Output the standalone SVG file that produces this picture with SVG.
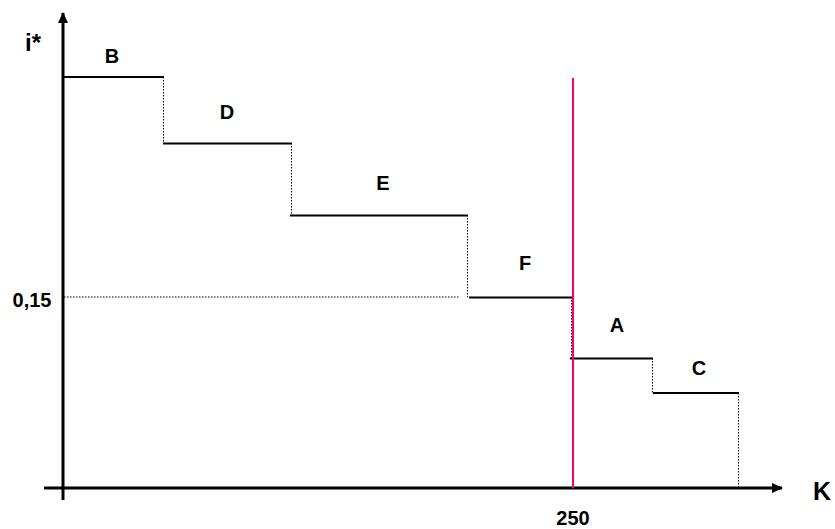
<svg xmlns="http://www.w3.org/2000/svg" width="835" height="529" viewBox="0 0 835 529">
<style>
.lbl{font-family:"Liberation Sans",Arial,sans-serif;font-weight:bold;font-size:20px;fill:#000;text-anchor:middle}
.step{stroke:#000;stroke-width:2;fill:none}
.dot{stroke:#000;stroke-width:1;stroke-dasharray:1.5 1.5;fill:none}
.axis{stroke:#000;stroke-width:3;fill:none}
</style>
<defs>
<marker id="ahv" markerWidth="11" markerHeight="10" refX="10" refY="5" orient="auto" markerUnits="userSpaceOnUse">
<path d="M0,0 L11,5 L0,10 Z" fill="#000"/>
</marker>
</defs>
<g id="connectors">
<line class="axis" x1="63" y1="500" x2="63" y2="13" marker-end="url(#ahv)"/>
<line class="axis" x1="44" y1="488" x2="782" y2="488" marker-end="url(#ahv)"/>
<line class="dot" x1="64" y1="297" x2="460" y2="297"/>
<line class="step" x1="64" y1="77" x2="164" y2="77"/>
<line class="dot" x1="163.5" y1="77" x2="163.5" y2="143"/>
<line class="step" x1="163" y1="143.5" x2="292" y2="143.5"/>
<line class="dot" x1="291.5" y1="143" x2="291.5" y2="215"/>
<line class="step" x1="290" y1="215.5" x2="468" y2="215.5"/>
<line class="dot" x1="467.5" y1="215" x2="467.5" y2="297"/>
<line class="step" x1="469" y1="297.5" x2="573" y2="297.5"/>
<line class="dot" x1="571.5" y1="297" x2="571.5" y2="358"/>
<line class="step" x1="570" y1="358.5" x2="653" y2="358.5"/>
<line class="dot" x1="652.5" y1="358" x2="652.5" y2="393"/>
<line class="step" x1="653" y1="393" x2="739" y2="393"/>
<line class="dot" x1="738.5" y1="393" x2="738.5" y2="488"/>
<line x1="573" y1="78" x2="573" y2="488" stroke="#ff0066" stroke-width="2"/>
</g>
<g id="labels">
<text class="lbl" x="33" y="51" style="font-size:24px">i*</text>
<text class="lbl" x="112" y="63">B</text>
<text class="lbl" x="227" y="119">D</text>
<text class="lbl" x="383" y="190">E</text>
<text class="lbl" x="525" y="270">F</text>
<text class="lbl" x="617" y="332">A</text>
<text class="lbl" x="699" y="375">C</text>
<text class="lbl" x="822" y="500" style="font-size:25px">K</text>
<text class="lbl" x="32" y="307">0,15</text>
<text class="lbl" x="573" y="525">250</text>
</g>
</svg>
